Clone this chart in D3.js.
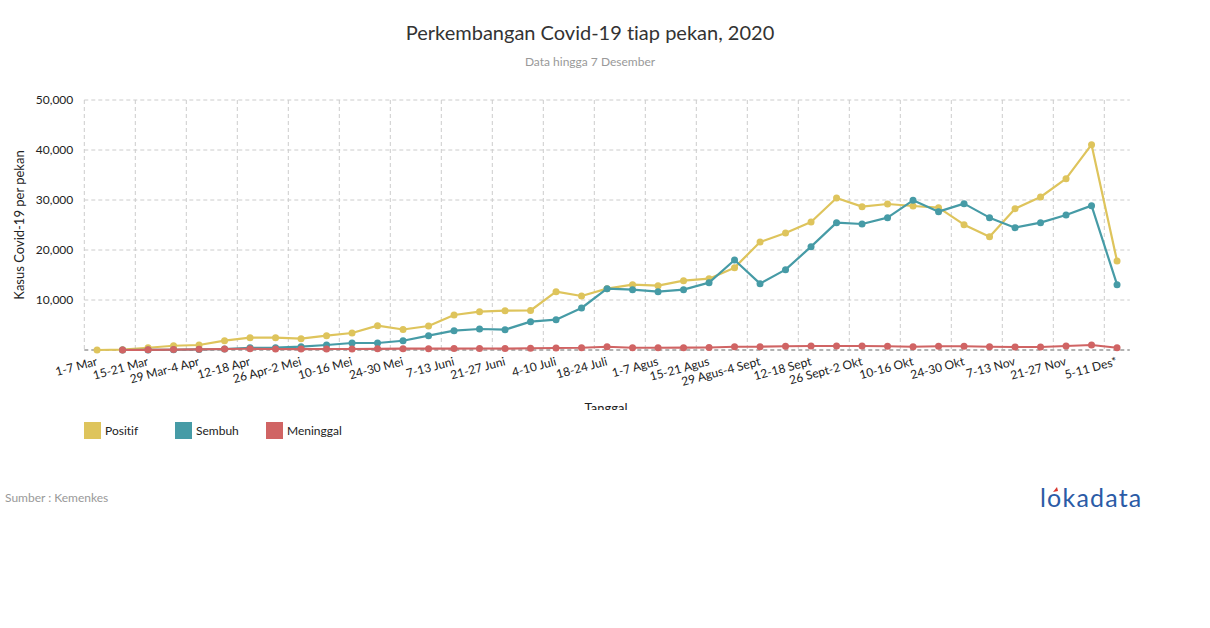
<!DOCTYPE html>
<html><head><meta charset="utf-8">
<script src="https://cdn.jsdelivr.net/npm/d3@7"></script>
<style>
html,body{margin:0;padding:0;background:#fff;}
svg{display:block;font-family:Lato, "Open Sans", sans-serif;font-variant-ligatures:none;}
</style></head>
<body>
<svg id="chart" width="1210" height="628"></svg>
<script>
const weeks = ["1-7 Mar","8-14 Mar","15-21 Mar","22-28 Mar","29 Mar-4 Apr","5-11 Apr","12-18 Apr","19-25 Apr","26 Apr-2 Mei","3-9 Mei","10-16 Mei","17-23 Mei","24-30 Mei","31 Mei-6 Juni","7-13 Juni","14-20 Juni","21-27 Juni","28 Juni-3 Juli","4-10 Juli","11-17 Juli","18-24 Juli","25-31 Juli","1-7 Agus","8-14 Agus","15-21 Agus","22-28 Agus","29 Agus-4 Sept","5-11 Sept","12-18 Sept","19-25 Sept","26 Sept-2 Okt","3-9 Okt","10-16 Okt","17-23 Okt","24-30 Okt","31 Okt-6 Nov","7-13 Nov","14-20 Nov","21-27 Nov","28 Nov-4 Des","5-11 Des*"];
const positif = [4,60,450,850,1000,1870,2470,2470,2270,2870,3400,4870,4100,4800,7000,7670,7870,7900,11670,10800,12270,13070,12870,13870,14270,16470,21600,23400,25600,30400,28670,29200,28800,28470,25070,22670,28270,30600,34270,41070,17800];
const sembuh = [null,2,20,50,120,200,450,470,670,1000,1400,1400,1850,2870,3870,4200,4070,5670,6070,8400,12270,12070,11670,12070,13470,18000,13270,16070,20670,25470,25200,26470,29930,27670,29270,26470,24470,25470,27000,28870,13070];
const meninggal = [null,5,30,80,130,200,250,200,180,200,200,230,260,260,280,300,280,350,400,450,650,450,450,470,500,650,650,750,800,800,800,750,650,750,750,650,600,600,800,1000,450];
const yTicks = [10000,20000,30000,40000,50000];
const seriesNames = ["Positif","Sembuh","Meninggal"];
const seriesColors = ["#DEC45C","#469BA6","#D06464"];

const svg = d3.select("#chart");
const pLeft = 84.3, pRight = 1129.8, pTop = 100, pBottom = 350;
const x = d3.scaleBand().domain(d3.range(weeks.length)).range([pLeft,pRight]).padding(0);
const cx = i => x(i) + x.bandwidth()/2;
const y = d3.scaleLinear().domain([0,50000]).range([pBottom,pTop]);

// Title
svg.append("text").attr("x",590).attr("y",40).attr("text-anchor","middle")
  .attr("font-size",20).attr("fill","#333").text("Perkembangan Covid-19 tiap pekan, 2020");
svg.append("text").attr("x",590).attr("y",66).attr("text-anchor","middle")
  .attr("font-size",12).attr("fill","#999").text("Data hingga 7 Desember");

// clip for chart area (Tanggal title gets cut)
svg.append("clipPath").attr("id","clipChart").append("rect").attr("x",0).attr("y",80).attr("width",1210).attr("height",330);
const g = svg.append("g").attr("clip-path","url(#clipChart)");

// vertical grid
const vTicks = d3.range(0,weeks.length,2);
g.append("g").selectAll("line").data(vTicks).join("line")
  .attr("x1",d=>x(d)).attr("x2",d=>x(d)).attr("y1",pTop).attr("y2",pBottom)
  .attr("stroke","#ccc").attr("stroke-dasharray","4,3").attr("stroke-width",1);
// horizontal grid
g.append("g").selectAll("line").data(yTicks).join("line")
  .attr("x1",pLeft).attr("x2",pRight).attr("y1",d=>y(d)).attr("y2",d=>y(d))
  .attr("stroke","#ccc").attr("stroke-dasharray","4,3").attr("stroke-width",1);
// baseline
g.append("line").attr("x1",pLeft).attr("x2",pRight).attr("y1",y(0)).attr("y2",y(0))
  .attr("stroke","#666").attr("stroke-dasharray","4,3").attr("stroke-width",1);

// y tick labels
const yAxis = d3.axisLeft(y).tickValues(yTicks).tickSize(0).tickPadding(0).tickFormat(d3.format(","));
const ya = g.append("g").attr("transform",`translate(${pLeft-11},0)`).call(yAxis);
ya.select(".domain").remove();
ya.selectAll("text").attr("font-family","Lato, sans-serif").attr("font-size",12).attr("fill","#222");

// y axis title
g.append("text").attr("transform","translate(24,225) rotate(-90)").attr("text-anchor","middle")
  .attr("font-size",13).attr("fill","#222").text("Kasus Covid-19 per pekan");

// x labels
g.append("g").selectAll("text").data(vTicks).join("text")
  .attr("transform",d=>`translate(${cx(d)+1},365) rotate(-15)`)
  .attr("text-anchor","end").attr("font-size",12).attr("fill","#222")
  .text(d=>weeks[d]);

// x axis title
g.append("text").attr("x",606).attr("y",413).attr("text-anchor","middle")
  .attr("font-size",13).attr("fill","#222").text("Tanggal");

// series
const allSeries = [positif, sembuh, meninggal];
const line = d3.line().defined(d=>d.v!==null).x(d=>cx(d.i)).y(d=>y(d.v));
allSeries.forEach((s,k)=>{
  const pts = s.map((v,i)=>({i,v}));
  g.append("path").datum(pts).attr("d",line).attr("fill","none")
    .attr("stroke",seriesColors[k]).attr("stroke-width",2.2).attr("stroke-linejoin","round");
  g.append("g").selectAll("circle").data(pts.filter(p=>p.v!==null)).join("circle")
    .attr("cx",p=>cx(p.i)).attr("cy",p=>y(p.v)).attr("r",3.5).attr("fill",seriesColors[k]);
});

// legend
const legX = [84,175,266];
const lg = svg.append("g");
seriesNames.forEach((n,k)=>{
  lg.append("rect").attr("x",legX[k]).attr("y",422).attr("width",17).attr("height",17).attr("fill",seriesColors[k]);
  lg.append("text").attr("x",legX[k]+21).attr("y",435).attr("font-size",12).attr("fill","#222").text(n);
});

// source
svg.append("text").attr("x",5).attr("y",502).attr("font-size",12).attr("fill","#999").text("Sumber : Kemenkes");

// logo
svg.append("text").attr("x",1040).attr("y",507).attr("font-size",25).attr("fill","#2B5BA6")
  .attr("font-family","Lato, sans-serif").attr("letter-spacing",1.2).text("lokadata");
svg.append("path").attr("d","M1053,492 l4,-5 l1,4 z").attr("fill","#D9372E");
</script>
</body></html>
